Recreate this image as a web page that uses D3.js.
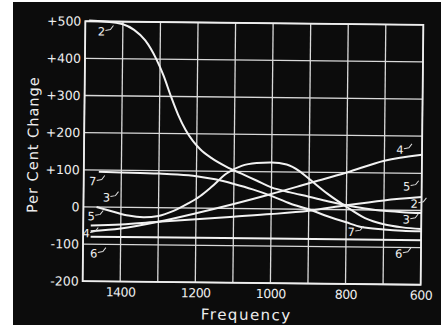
<!DOCTYPE html>
<html><head><meta charset="utf-8">
<script src="https://cdn.jsdelivr.net/npm/d3@7"></script>
<style>html,body{margin:0;padding:0;background:#fff;} svg{display:block}</style>
</head><body>
<svg id="c" width="441" height="327"></svg>
<script>
// ---- data ----
const xTicks = [1400, 1200, 1000, 800, 600];
const xGrid = [1500, 1400, 1300, 1200, 1100, 1000, 900, 800, 700, 600];
const yTicks = [500, 400, 300, 200, 100, 0, -100, -200];
const yTickLabels = ["+500", "+400", "+300", "+200", "+100", "0", "-100", "-200"];

const f2 = [1490,1450,1400,1370,1340,1310,1290,1270,1250,1230,1210,1190,1160,1120,1080,1040,1000,950,900,850,800,750,700,650,600];
const v2 = [502,500,493,478,450,400,355,300,250,210,180,158,135,112,94,76,58,45,34,22,12,4,-2,-5,-7];

const f3 = [1465,1420,1380,1340,1300,1260,1220,1190,1160,1120,1080,1040,1000,960,925,900,850,800,750,700,650,600];
const v3 = [0,-12,-22,-26,-22,-8,13,32,57,94,115,123,125,120,102,82,42,8,-22,-38,-46,-50];

const f4 = [1480,1400,1300,1200,1100,1000,900,800,700,600];
const v4 = [-65,-57,-38,-14,12,40,70,100,133,150];

const f5 = [1480,1400,1300,1200,1100,1000,900,800,700,600];
const v5 = [-50,-46,-38,-30,-22,-14,-4,12,26,36];

const f6 = [1480,1000,600];
const v6 = [-80,-80,-80];

const f7 = [1460,1400,1300,1250,1200,1150,1100,1050,1000,950,900,850,800,760,700,650,600];
const v7 = [95,94,92,90,86,78,66,52,35,15,0,-18,-34,-46,-52,-55,-56];

const seriesNames = ["2","3","4","5","6","7"];
const seriesF = [f2,f3,f4,f5,f6,f7];
const seriesV = [v2,v3,v4,v5,v6,v7];

// curve number annotations (data coords of label centre)
const labelText = ["2","7","3","5","4","6","4","5","2","3","7","6"];
const labelF = [1457,1476,1439,1479,1492,1471,659,640,619,640,786,659];
const labelV = [473,69,26,-25,-71,-125,163,64,18,-25,-60,-117];
const labelSide = ["L","L","L","L","L","L","R","R","R","R","R","R"];

// ---- layout ----
const svg = d3.select("#c");
svg.append("rect").attr("x",13).attr("y",2).attr("width",428).attr("height",323).attr("fill","#0c0c0c");

const g = svg.append("g").attr("transform","rotate(0.6,253,153)");
const x = d3.scaleLinear().domain([1500,600]).range([84,422]);
const y = d3.scaleLinear().domain([-200,500]).range([283,23]);

const gridCol = "#d9d9d9";
// grid
g.selectAll("line.h").data(yTicks).join("line")
  .attr("x1",x(1500)).attr("x2",x(600))
  .attr("y1",d=>y(d)).attr("y2",d=>y(d))
  .attr("stroke",gridCol).attr("stroke-width",1.3);
g.selectAll("line.v").data(xGrid).join("line")
  .attr("x1",d=>x(d)).attr("x2",d=>x(d))
  .attr("y1",y(500)).attr("y2",y(-200))
  .attr("stroke",gridCol).attr("stroke-width",1.3);
// frame
g.append("rect").attr("x",x(1500)).attr("y",y(500)).attr("width",x(600)-x(1500)).attr("height",y(-200)-y(500))
  .attr("fill","none").attr("stroke","#eee").attr("stroke-width",1.8);

// axes
const yAxis = d3.axisLeft(y).tickValues(yTicks).tickSize(0).tickPadding(4)
  .tickFormat((d,i)=>yTickLabels[i]);
const ya = g.append("g").attr("transform",`translate(${x(1500)},0)`).call(yAxis);
ya.select(".domain").remove();
ya.selectAll("text").attr("fill","#eee").style("font-family","'DejaVu Sans'").style("font-size","12.5px");

const xAxis = d3.axisBottom(x).tickValues(xTicks).tickSize(0).tickPadding(6).tickFormat(d3.format("d"));
const xa = g.append("g").attr("transform",`translate(0,${y(-200)})`).call(xAxis);
xa.select(".domain").remove();
xa.selectAll("text").attr("fill","#eee").style("font-family","'DejaVu Sans'").style("font-size","12.5px").style("letter-spacing","-0.5px");

g.append("text").attr("x",(x(1500)+x(600))/2-5).attr("y",320)
  .attr("text-anchor","middle").attr("fill","#eee")
  .style("font-family","'DejaVu Sans'").style("font-size","15px").style("letter-spacing","1.5px")
  .text("Frequency");
g.append("text").attr("transform","translate(38,147) rotate(-90)")
  .attr("text-anchor","middle").attr("fill","#eee")
  .style("font-family","'DejaVu Sans'").style("font-size","14.5px").style("letter-spacing","1px")
  .text("Per Cent Change");

// curves
const line = d3.line().x(d=>x(d[0])).y(d=>y(d[1])).curve(d3.curveMonotoneX);
seriesNames.forEach((n,i)=>{
  const pts = seriesF[i].map((f,j)=>[f,seriesV[i][j]]);
  g.append("path").attr("d",line(pts)).attr("fill","none")
    .attr("stroke","#f2f2f2").attr("stroke-width",2);
});

// curve number labels with leaders
labelText.forEach((t,i)=>{
  const lx = x(labelF[i]), ly = y(labelV[i]);
  g.append("text").attr("x",lx).attr("y",ly+4).attr("text-anchor","middle")
    .attr("fill","#eee").style("font-family","'DejaVu Sans'").style("font-size","11.5px").text(t);
  g.append("path").attr("d",`M${lx+4},${ly-1} l5,-1 l3,-4`)
    .attr("fill","none").attr("stroke","#ddd").attr("stroke-width",1);
});
</script>
</body></html>
